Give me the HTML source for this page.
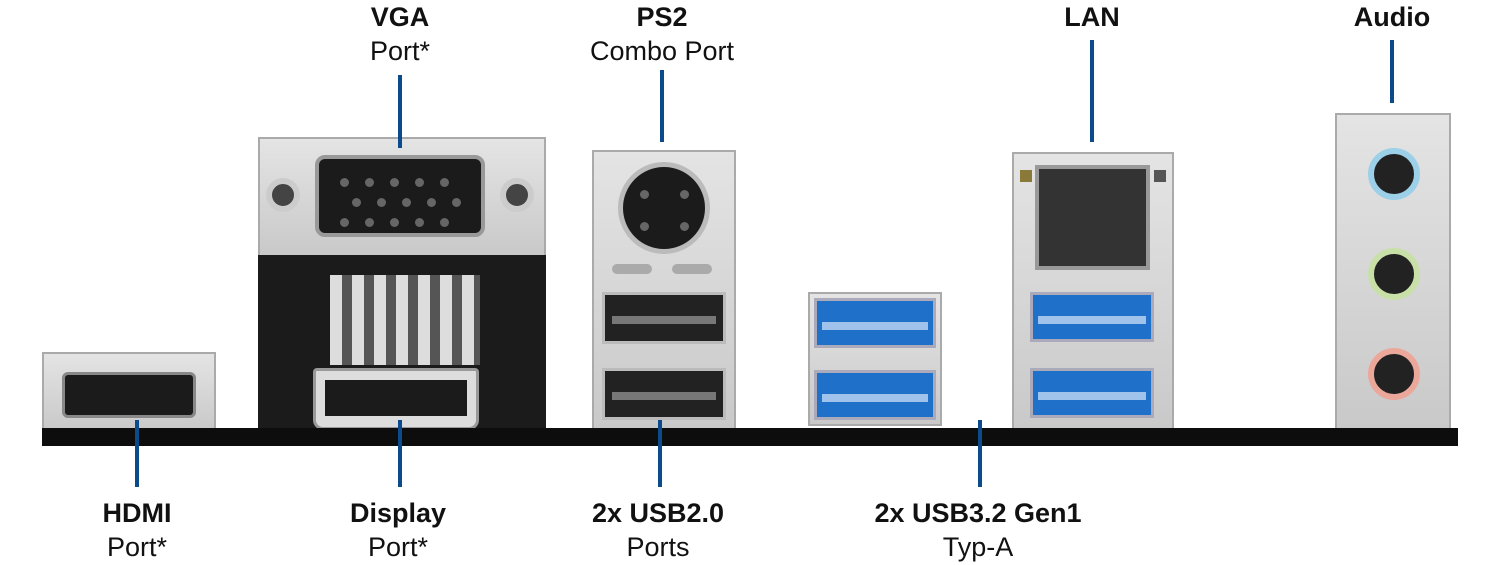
<!DOCTYPE html>
<html><head><meta charset="utf-8"><style>
body{margin:0;width:1500px;height:565px;background:#fff;position:relative;overflow:hidden;font-family:"Liberation Sans",sans-serif}
div{position:absolute;box-sizing:border-box}
.lbl{text-align:center;width:300px;color:#111;font-size:27px;line-height:34px}
.lbl b{display:block}
.ln{background:#0b4a8b;width:4px}
.metal{background:linear-gradient(#e4e4e4,#c9c9c9);border:2px solid #aaa}
.blk{background:#1b1b1b}
.usb{background:#222;border:3px solid #bbb}
.usb3{background:#1e70c8;border:3px solid #aab}
.jack{border-radius:50%;border:6px solid #ccc}
.pin{width:9px;height:9px;border-radius:50%;background:#666}
.tongue{height:8px;background:#777}
</style></head><body>
<div class="lbl" style="left:250px;top:0"><b>VGA</b>Port*</div>
<div class="lbl" style="left:512px;top:0"><b>PS2</b>Combo Port</div>
<div class="lbl" style="left:942px;top:0"><b>LAN</b></div>
<div class="lbl" style="left:1242px;top:0"><b>Audio</b></div>
<div class="lbl" style="left:-13px;top:496px"><b>HDMI</b>Port*</div>
<div class="lbl" style="left:248px;top:496px"><b>Display</b>Port*</div>
<div class="lbl" style="left:508px;top:496px"><b>2x USB2.0</b>Ports</div>
<div class="lbl" style="left:828px;top:496px"><b>2x USB3.2 Gen1</b>Typ-A</div>
<div class="metal" style="left:42px;top:352px;width:174px;height:80px"></div>
<div class="blk" style="left:62px;top:372px;width:134px;height:46px;border-radius:6px;border:3px solid #888"></div>
<div class="metal" style="left:258px;top:137px;width:288px;height:120px"></div>
<div class="blk" style="left:315px;top:155px;width:170px;height:82px;border-radius:10px;border:4px solid #999"></div>
<div class="pin" style="left:340px;top:178px"></div><div class="pin" style="left:365px;top:178px"></div><div class="pin" style="left:390px;top:178px"></div><div class="pin" style="left:415px;top:178px"></div><div class="pin" style="left:440px;top:178px"></div>
<div class="pin" style="left:352px;top:198px"></div><div class="pin" style="left:377px;top:198px"></div><div class="pin" style="left:402px;top:198px"></div><div class="pin" style="left:427px;top:198px"></div><div class="pin" style="left:452px;top:198px"></div>
<div class="pin" style="left:340px;top:218px"></div><div class="pin" style="left:365px;top:218px"></div><div class="pin" style="left:390px;top:218px"></div><div class="pin" style="left:415px;top:218px"></div><div class="pin" style="left:440px;top:218px"></div>
<div class="jack" style="left:266px;top:178px;width:34px;height:34px;background:#444"></div>
<div class="jack" style="left:500px;top:178px;width:34px;height:34px;background:#444"></div>
<div class="blk" style="left:258px;top:255px;width:288px;height:175px"></div>
<div style="left:330px;top:275px;width:150px;height:90px;background:repeating-linear-gradient(90deg,#ddd 0 12px,#555 12px 22px)"></div>
<div style="left:313px;top:368px;width:166px;height:62px;background:#ddd;border:3px solid #999;border-radius:4px 4px 10px 10px"></div>
<div class="blk" style="left:325px;top:380px;width:142px;height:36px"></div>
<div class="metal" style="left:592px;top:150px;width:144px;height:280px"></div>
<div class="blk" style="left:618px;top:162px;width:92px;height:92px;border-radius:50%;border:5px solid #bbb"></div>
<div class="pin" style="left:640px;top:190px"></div><div class="pin" style="left:680px;top:190px"></div><div class="pin" style="left:640px;top:222px"></div><div class="pin" style="left:680px;top:222px"></div>
<div style="left:612px;top:264px;width:40px;height:10px;border-radius:5px;background:#aaa"></div>
<div style="left:672px;top:264px;width:40px;height:10px;border-radius:5px;background:#aaa"></div>
<div class="usb" style="left:602px;top:292px;width:124px;height:52px"></div>
<div class="tongue" style="left:612px;top:316px;width:104px"></div>
<div class="usb" style="left:602px;top:368px;width:124px;height:52px"></div>
<div class="tongue" style="left:612px;top:392px;width:104px"></div>
<div class="metal" style="left:808px;top:292px;width:134px;height:134px"></div>
<div class="usb3" style="left:814px;top:298px;width:122px;height:50px"></div>
<div class="usb3" style="left:814px;top:370px;width:122px;height:50px"></div>
<div style="left:822px;top:322px;width:106px;height:8px;background:#9fc3ea"></div>
<div style="left:822px;top:394px;width:106px;height:8px;background:#9fc3ea"></div>
<div class="metal" style="left:1012px;top:152px;width:162px;height:278px"></div>
<div class="blk" style="left:1035px;top:165px;width:115px;height:105px;background:#333;border:4px solid #999"></div>
<div style="left:1020px;top:170px;width:12px;height:12px;background:#8a7a3a"></div>
<div style="left:1154px;top:170px;width:12px;height:12px;background:#555"></div>
<div class="usb3" style="left:1030px;top:292px;width:124px;height:50px"></div>
<div class="usb3" style="left:1030px;top:368px;width:124px;height:50px"></div>
<div style="left:1038px;top:316px;width:108px;height:8px;background:#9fc3ea"></div>
<div style="left:1038px;top:392px;width:108px;height:8px;background:#9fc3ea"></div>
<div class="metal" style="left:1335px;top:113px;width:116px;height:317px"></div>
<div class="jack" style="left:1368px;top:148px;width:52px;height:52px;background:#222;border-color:#9cd0e8"></div>
<div class="jack" style="left:1368px;top:248px;width:52px;height:52px;background:#222;border-color:#c8e0a8"></div>
<div class="jack" style="left:1368px;top:348px;width:52px;height:52px;background:#222;border-color:#eba89a"></div>
<div style="left:42px;top:428px;width:1416px;height:18px;background:#0d0d0d"></div>
<div class="ln" style="left:398px;top:75px;height:73px"></div>
<div class="ln" style="left:660px;top:70px;height:72px"></div>
<div class="ln" style="left:1090px;top:40px;height:102px"></div>
<div class="ln" style="left:1390px;top:40px;height:63px"></div>
<div class="ln" style="left:135px;top:420px;height:67px"></div>
<div class="ln" style="left:398px;top:420px;height:67px"></div>
<div class="ln" style="left:658px;top:420px;height:67px"></div>
<div class="ln" style="left:978px;top:420px;height:67px"></div>
</body></html>
